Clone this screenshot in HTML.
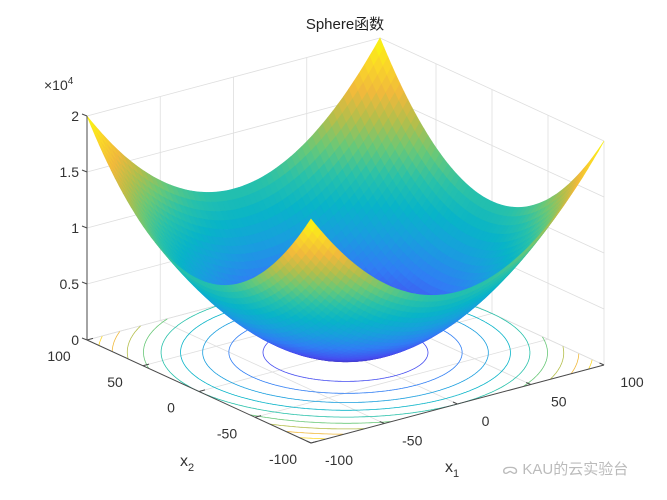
<!DOCTYPE html>
<html>
<head>
<meta charset="utf-8">
<style>
html,body{margin:0;padding:0;background:#fff;}
svg{display:block;font-family:"Liberation Sans","Noto Sans CJK SC",sans-serif;}
</style>
</head>
<body>
<svg id="chart" width="667" height="500" viewBox="0 0 667 500">
  <text x="345" y="29" font-size="15" text-anchor="middle" fill="#222">Sphere函数</text>
  <g id="grid"></g>
  <g id="contours"></g>
  <g id="surface"></g>
  <g id="axes"></g>
  <g id="labels"></g>
  <text x="44" y="90" font-size="14" fill="#333">×10<tspan dy="-6" font-size="10">4</tspan></text>
  <text x="180" y="466" font-size="16" fill="#333">x<tspan dy="5" font-size="11">2</tspan></text>
  <text x="445" y="472" font-size="16" fill="#333">x<tspan dy="5" font-size="11">1</tspan></text>
  <text x="502" y="474" font-size="15" fill="#bbb">ᯅ KAU的云实验台</text>
</svg>
<script>
const x1Ticks = [-100, -50, 0, 50, 100];
const x2Ticks = [-100, -50, 0, 50, 100];
const zTicks = [0, 5000, 10000, 15000, 20000];
const zTickLabels = ["0", "0.5", "1", "1.5", "2"];
const contourLevels = [2000, 4000, 6000, 8000, 10000, 12000, 14000, 16000, 18000];
const domain = [-100, 100];
const zRange = [0, 20000];
const gridSteps = 56;

const NS = "http://www.w3.org/2000/svg";
const O = [345.5, 352.5];
function nu(x){return (x - (domain[0]+domain[1])/2) / ((domain[1]-domain[0])/2);}
function nw(z){return (z - zRange[0]) / (zRange[1]-zRange[0]);}
function P(x1, x2, z){
  const u = nu(x1), v = nu(x2), w = nw(z);
  return [O[0] + 146.5*u - 112*v, O[1] - 39*u - 51.5*v - 224*w];
}
function sphere(a, b){return a*a + b*b;}
const cmap = [[62,38,168],[70,78,240],[48,126,244],[25,158,222],[8,180,200],[40,193,170],[105,200,120],[180,190,75],[240,185,60],[250,215,40],[249,251,14]];
function parula(t){
  t = Math.max(0, Math.min(1, t)) * 10;
  const i = Math.min(9, Math.floor(t)), f = t - i;
  const c = cmap[i].map((v,k)=>Math.round(v + (cmap[i+1][k]-v)*f));
  return `rgb(${c[0]},${c[1]},${c[2]})`;
}
function line(g, p, q, color, w, name){
  const l = document.createElementNS(NS, "line");
  l.setAttribute("x1", p[0]); l.setAttribute("y1", p[1]);
  l.setAttribute("x2", q[0]); l.setAttribute("y2", q[1]);
  l.setAttribute("stroke", color); l.setAttribute("stroke-width", w);
  
  
  g.appendChild(l);
}
function text(g, x, y, s, anchor, name){
  const t = document.createElementNS(NS, "text");
  t.setAttribute("x", x); t.setAttribute("y", y);
  t.setAttribute("font-size", "14"); t.setAttribute("fill", "#333");
  t.setAttribute("text-anchor", anchor);
  t.textContent = s;
  
  
  g.appendChild(t);
}
const lo = domain[0], hi = domain[1], zMax = zRange[1];
const G = document.getElementById("grid");
const gc = "#dedede";
x1Ticks.forEach(t => {
  line(G, P(t, lo, 0), P(t, hi, 0), gc, 0.8, "floor-grid-x1");
  line(G, P(t, hi, 0), P(t, hi, zMax), gc, 0.8, "wall-grid-x1");
});
x2Ticks.forEach(t => {
  line(G, P(lo, t, 0), P(hi, t, 0), gc, 0.8, "floor-grid-x2");
  line(G, P(hi, t, 0), P(hi, t, zMax), gc, 0.8, "wall-grid-x2");
});
zTicks.forEach(z => {
  line(G, P(lo, hi, z), P(hi, hi, z), gc, 0.8, "wall-grid-z");
  line(G, P(hi, hi, z), P(hi, lo, z), gc, 0.8, "wall-grid-z");
});
const C = document.getElementById("contours");
contourLevels.forEach(L => {
  const r = Math.sqrt(L);
  let d = "", pen = false;
  for (let i = 0; i <= 720; i++) {
    const th = i / 720 * 2 * Math.PI;
    const a = r * Math.cos(th), b = r * Math.sin(th);
    if (a < lo || a > hi || b < lo || b > hi) { pen = false; continue; }
    const p = P(a, b, 0);
    d += (pen ? "L" : "M") + p[0].toFixed(1) + " " + p[1].toFixed(1);
    pen = true;
  }
  const path = document.createElementNS(NS, "path");
  path.setAttribute("d", d); path.setAttribute("fill", "none");
  path.setAttribute("stroke", parula(nw(L))); path.setAttribute("stroke-width", "0.8");
  
  
  C.appendChild(path);
});
const S = document.getElementById("surface");
const xs = [];
for (let i = 0; i <= gridSteps; i++) xs.push(lo + (hi - lo) * i / gridSteps);
const quads = [];
const nv = [-25088, -32816, 11913];
for (let i = 0; i < gridSteps; i++) for (let j = 0; j < gridSteps; j++) {
  const pts = [[xs[i], xs[j]], [xs[i+1], xs[j]], [xs[i+1], xs[j+1]], [xs[i], xs[j+1]]];
  const cu = (xs[i] + xs[i+1]) / 2, cv = (xs[j] + xs[j+1]) / 2;
  const cz = pts.reduce((s, p) => s + sphere(p[0], p[1]), 0) / 4;
  const depth = nu(cu) * nv[0] + nu(cv) * nv[1] + nw(cz) * nv[2];
  quads.push({pts, cz, depth});
}
quads.sort((a, b) => a.depth - b.depth);
quads.forEach(q => {
  const poly = document.createElementNS(NS, "polygon");
  poly.setAttribute("points", q.pts.map(p => P(p[0], p[1], sphere(p[0], p[1])).map(v => v.toFixed(1)).join(",")).join(" "));
  const col = parula(nw(q.cz));
  poly.setAttribute("fill", col); poly.setAttribute("stroke", col); poly.setAttribute("stroke-width", "0.6");
  
  
  S.appendChild(poly);
});
const A = document.getElementById("axes");
const ac = "#4a4a4a";
line(A, P(lo, hi, 0), P(lo, hi, zMax), ac, 1, "z-axis-line");
line(A, P(lo, hi, 0), P(lo, lo, 0), ac, 1, "x2-axis-line");
line(A, P(lo, lo, 0), P(hi, lo, 0), ac, 1, "x1-axis-line");
const Lb = document.getElementById("labels");
zTicks.forEach((z, i) => {
  const p = P(lo, hi, z);
  line(A, p, [p[0] - 5, p[1] - 2], ac, 1, "z-tick");
  text(Lb, p[0] - 8, p[1] + 5, zTickLabels[i], "end", "z-tick-label");
});
x2Ticks.forEach(t => {
  const p = P(lo, t, 0);
  line(A, p, [p[0] + 6, p[1] - 1.6], ac, 1, "x2-tick");
  text(Lb, p[0] - 28, p[1] + 21, String(t), "middle", "x2-tick-label");
});
x1Ticks.forEach(t => {
  const p = P(t, lo, 0);
  line(A, p, [p[0] - 4.5, p[1] - 2], ac, 1, "x1-tick");
  text(Lb, p[0] + 28, p[1] + 22, String(t), "middle", "x1-tick-label");
});
</script>
</body>
</html>
